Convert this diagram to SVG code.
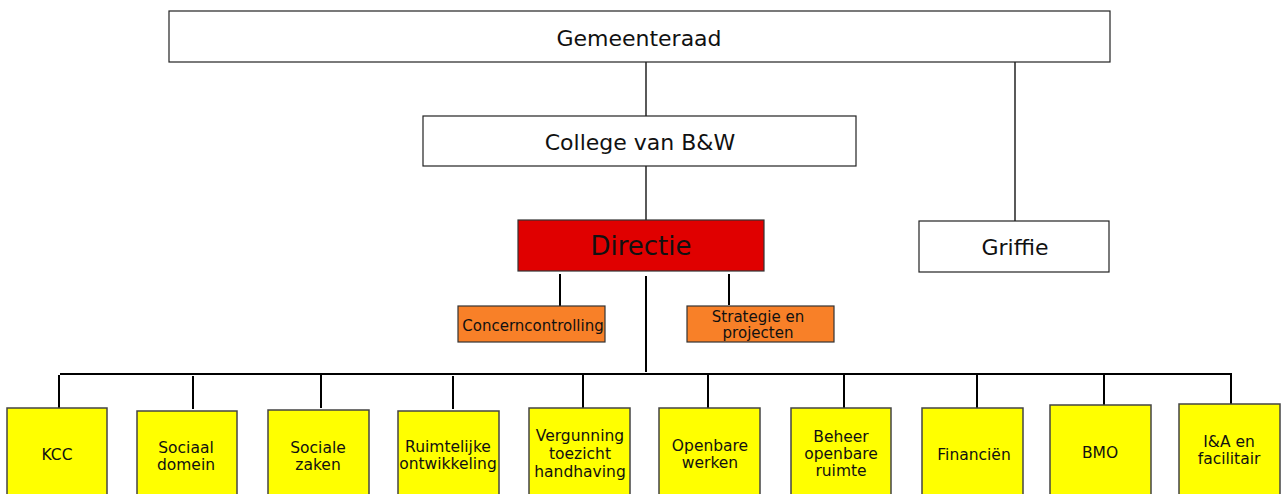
<svg xmlns="http://www.w3.org/2000/svg" width="1281" height="494" viewBox="0 0 1281 494">
<style>
text{font-family:"DejaVu Sans",Verdana,sans-serif;fill:#111;text-anchor:middle}
.w{fill:#fff;stroke:#222;stroke-width:1.2}
.r{fill:#e00000;stroke:#333;stroke-width:1.2}
.o{fill:#f88028;stroke:#333;stroke-width:1.2}
.y{fill:#ffff00;stroke:#444;stroke-width:1.5}
.big{font-size:22px}
.s{font-size:15.5px}
.m{font-size:15px}
.c line{stroke:#000;stroke-width:2}
.c .t{stroke-width:1.3}
</style>
<rect width="1281" height="494" fill="#fff"/>
<g class="c" id="connectors">
<line class="t" x1="646" y1="62" x2="646" y2="116"/>
<line class="t" x1="1015" y1="62" x2="1015" y2="221"/>
<line class="t" x1="646" y1="166" x2="646" y2="220"/>
<line x1="560" y1="274" x2="560" y2="306"/>
<line x1="729" y1="274" x2="729" y2="305"/>
<line x1="646" y1="276" x2="646" y2="372"/>
<line x1="60" y1="374" x2="1231" y2="374"/>
<line x1="59" y1="375" x2="59" y2="408"/>
<line x1="193" y1="376" x2="193" y2="409"/>
<line x1="321" y1="375" x2="321" y2="408"/>
<line x1="453" y1="376" x2="453" y2="409"/>
<line x1="583" y1="375" x2="583" y2="408"/>
<line x1="708" y1="375" x2="708" y2="408"/>
<line x1="844" y1="375" x2="844" y2="408"/>
<line x1="977" y1="375" x2="977" y2="408"/>
<line x1="1104" y1="375" x2="1104" y2="405"/>
<line x1="1231" y1="373" x2="1231" y2="407"/>
</g>
<g id="gemeenteraad"><rect class="w" x="169" y="11" width="941" height="51"/><text class="big" x="639" y="46">Gemeenteraad</text></g>
<g id="college"><rect class="w" x="423" y="116" width="433" height="50"/><text class="big" x="640" y="150">College van B&amp;W</text></g>
<g id="directie"><rect class="r" x="518" y="220" width="246" height="51"/><text x="641" y="255" style="font-size:26px">Directie</text></g>
<g id="griffie"><rect class="w" x="919" y="221" width="190" height="51"/><text class="big" x="1015" y="255">Griffie</text></g>
<g id="concerncontrolling"><rect class="o" x="458" y="306" width="147" height="36"/><text class="m" x="533" y="331">Concerncontrolling</text></g>
<g id="strategie"><rect class="o" x="687" y="306" width="147" height="36"/><text class="m" x="758" y="322">Strategie en</text><text class="m" x="758" y="338">projecten</text></g>
<g id="kcc"><rect class="y" x="7" y="408" width="100" height="90"/><text class="s" x="57" y="460">KCC</text></g>
<g id="sociaal-domein"><rect class="y" x="137" y="411" width="100" height="87"/><text class="s" x="186" y="453">Sociaal</text><text class="s" x="186" y="470">domein</text></g>
<g id="sociale-zaken"><rect class="y" x="268" y="410" width="101" height="88"/><text class="s" x="318" y="453">Sociale</text><text class="s" x="318" y="470">zaken</text></g>
<g id="ruimtelijke"><rect class="y" x="398" y="411" width="101" height="87"/><text class="s" x="448" y="452">Ruimtelijke</text><text class="s" x="448" y="469">ontwikkeling</text></g>
<g id="vergunning"><rect class="y" x="529" y="408" width="101" height="90"/><text class="s" x="580" y="441">Vergunning</text><text class="s" x="580" y="459">toezicht</text><text class="s" x="580" y="477">handhaving</text></g>
<g id="openbare-werken"><rect class="y" x="659" y="408" width="101" height="90"/><text class="s" x="710" y="451">Openbare</text><text class="s" x="710" y="468">werken</text></g>
<g id="beheer"><rect class="y" x="791" y="408" width="100" height="90"/><text class="s" x="841" y="442">Beheer</text><text class="s" x="841" y="459">openbare</text><text class="s" x="841" y="476">ruimte</text></g>
<g id="financien"><rect class="y" x="922" y="408" width="101" height="90"/><text class="s" x="974" y="460">Financiën</text></g>
<g id="bmo"><rect class="y" x="1050" y="405" width="101" height="93"/><text class="s" x="1100" y="458">BMO</text></g>
<g id="ia"><rect class="y" x="1179" y="404" width="101" height="94"/><text class="s" x="1229" y="447">I&amp;A en</text><text class="s" x="1229" y="464">facilitair</text></g>
</svg>
